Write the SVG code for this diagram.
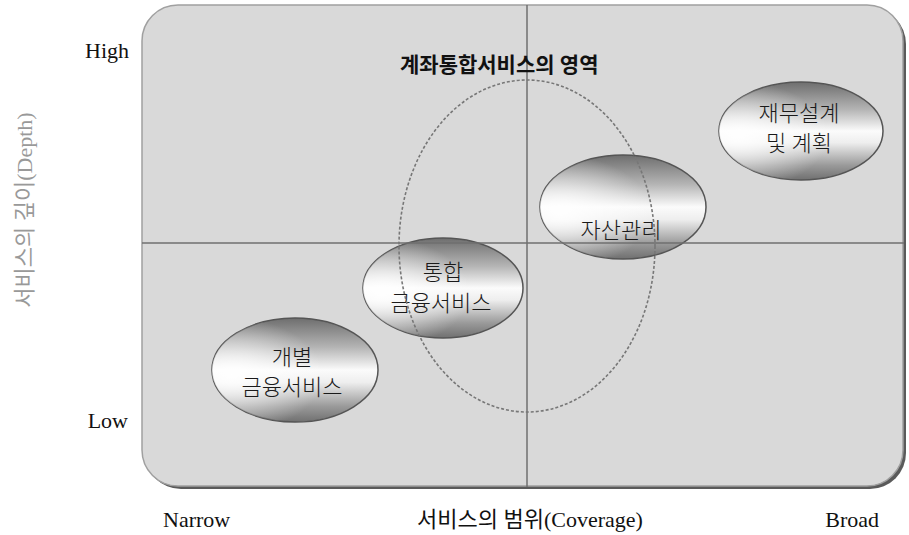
<svg xmlns="http://www.w3.org/2000/svg" width="909" height="535" viewBox="0 0 909 535">
  <defs>
    <linearGradient id="metal" x1="0" y1="0" x2="0" y2="1">
      <stop offset="0" stop-color="#6e6e6e"/>
      <stop offset="0.28" stop-color="#b4b4b4"/>
      <stop offset="0.5" stop-color="#fbfbfb"/>
      <stop offset="0.62" stop-color="#eeeeee"/>
      <stop offset="0.85" stop-color="#9a9a9a"/>
      <stop offset="1" stop-color="#707070"/>
    </linearGradient>
    <radialGradient id="shine" cx="0.12" cy="0.55" r="0.55">
      <stop offset="0" stop-color="#ffffff" stop-opacity="0.95"/>
      <stop offset="1" stop-color="#ffffff" stop-opacity="0"/>
    </radialGradient>
  </defs>
  <style>
    .lat { font-family: "Liberation Serif", "Noto Sans CJK KR", serif; font-size: 22px; fill: #111; }
    .kr { font-family: "Liberation Serif", "Noto Sans CJK KR", serif; font-size: 22px; font-weight: 300; fill: #1a1a1a; text-anchor: middle; }
    .ell { fill: url(#metal); stroke: #555; stroke-width: 1.5; }
    .shn { fill: url(#shine); stroke: none; }
    .axis { stroke: #6f6f6f; stroke-width: 1.5; fill: none; }
  </style>

  <!-- background panel -->
  <g id="panel">
    <rect x="145" y="8" width="761" height="481" rx="36" ry="36" fill="#5a5a5a"/>
    <rect x="142" y="5" width="761" height="481" rx="36" ry="36" fill="#d9d9d9" stroke="#a0a0a0" stroke-width="1.5"/>
  </g>

  <!-- nodes -->
  <g id="node-jaemu">
    <ellipse class="ell" cx="801" cy="131" rx="82" ry="49"/>
    <ellipse class="shn" cx="801" cy="131" rx="82" ry="49"/>
    <text class="kr" x="799" y="121">재무설계</text>
    <text class="kr" x="799" y="151">및 계획</text>
  </g>
  <g id="node-jasan">
    <ellipse class="ell" cx="623" cy="207" rx="83" ry="52"/>
    <ellipse class="shn" cx="623" cy="207" rx="83" ry="52"/>
    <text class="kr" x="621" y="238">자산관리</text>
  </g>
  <g id="node-tonghap">
    <ellipse class="ell" cx="443" cy="288" rx="80" ry="50"/>
    <ellipse class="shn" cx="443" cy="288" rx="80" ry="50"/>
    <text class="kr" x="443" y="280">통합</text>
    <text class="kr" x="441" y="311">금융서비스</text>
  </g>
  <g id="node-gaebyeol">
    <ellipse class="ell" cx="295" cy="370" rx="83" ry="52"/>
    <ellipse class="shn" cx="295" cy="370" rx="83" ry="52"/>
    <text class="kr" x="292" y="365">개별</text>
    <text class="kr" x="292" y="395">금융서비스</text>
  </g>

  <!-- axes / connectors (drawn over the nodes, as in the reference) -->
  <g id="connectors">
    <line class="axis" x1="527" y1="5" x2="527" y2="487"/>
    <line class="axis" x1="142" y1="243" x2="904" y2="243"/>
    <ellipse cx="527" cy="246" rx="128" ry="166" fill="none" stroke="#777" stroke-width="1.6" stroke-dasharray="3 2"/>
  </g>

  <!-- region title -->
  <g id="region">
    <text x="400" y="72" font-family="'Liberation Serif', 'Noto Sans CJK KR', serif" font-size="21" font-weight="bold" fill="#111">계좌통합서비스의 영역</text>
  </g>

  <!-- axis labels -->
  <g id="labels">
    <text class="lat" x="129" y="58" text-anchor="end">High</text>
    <text class="lat" x="128" y="428" text-anchor="end">Low</text>
    <text class="lat" x="163" y="527">Narrow</text>
    <text class="lat" x="879" y="527" text-anchor="end">Broad</text>
    <text class="lat" x="530" y="527" text-anchor="middle">서비스의 범위(Coverage)</text>
    <text class="lat" transform="translate(32,210) rotate(-90)" text-anchor="middle" style="fill:#999">서비스의 깊이(Depth)</text>
  </g>
</svg>
